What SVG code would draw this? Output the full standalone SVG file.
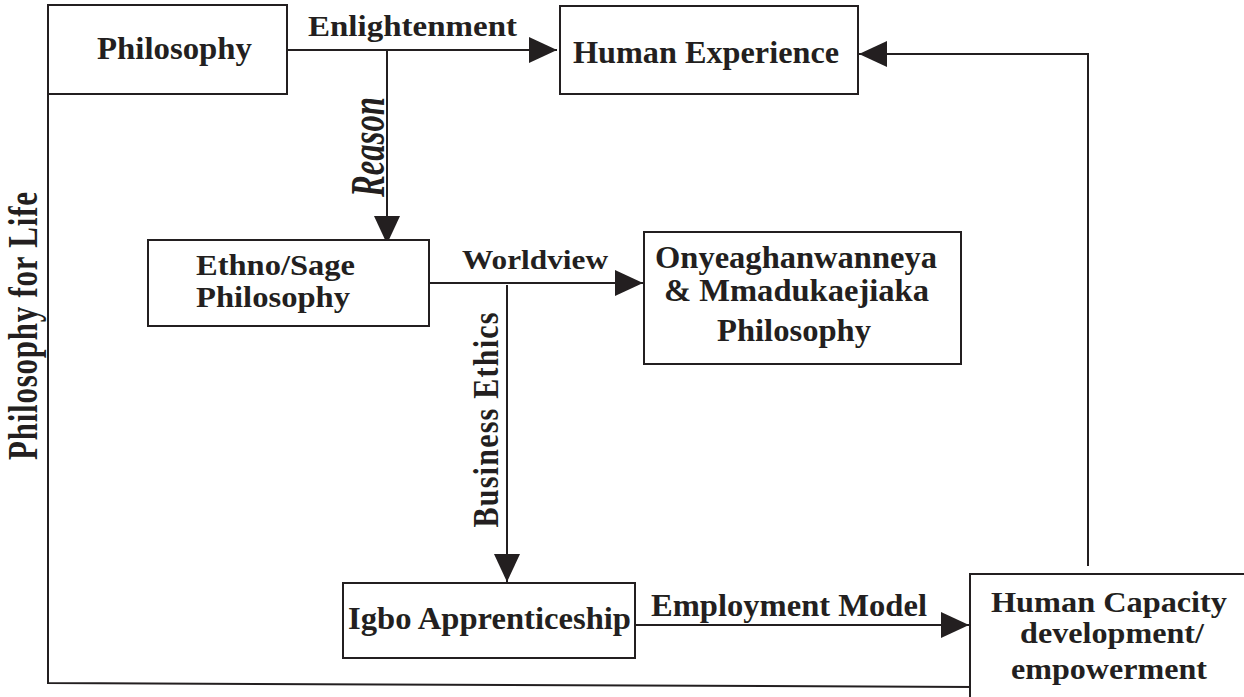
<svg xmlns="http://www.w3.org/2000/svg" width="1244" height="697" viewBox="0 0 1244 697">
<style>
  .box{fill:#fff;stroke:#231f20;stroke-width:2}
  .ln{fill:none;stroke:#231f20;stroke-width:2}
  .t{font-family:"Liberation Serif","Times New Roman",serif;font-weight:bold;fill:#231f20}
  .it{font-style:italic}
</style>
<defs>
  <marker id="ah" markerUnits="userSpaceOnUse" markerWidth="30" markerHeight="28" refX="28" refY="13" orient="auto">
    <path d="M0,0 L28,13 L0,26 Z" fill="#231f20"/>
  </marker>
</defs>
<rect width="1244" height="697" fill="#fff"/>

<g id="connectors">
  <line class="ln" x1="287" y1="50" x2="557" y2="50" marker-end="url(#ah)"/>
  <line class="ln" x1="387" y1="50" x2="387" y2="244" marker-end="url(#ah)"/>
  <line class="ln" x1="429" y1="283" x2="643" y2="283" marker-end="url(#ah)"/>
  <line class="ln" x1="507" y1="285" x2="507" y2="582" marker-end="url(#ah)"/>
  <line class="ln" x1="635" y1="625" x2="969" y2="625" marker-end="url(#ah)"/>
  <polyline class="ln" points="1088,566 1088,54 859,54" marker-end="url(#ah)"/>
  <polyline class="ln" points="48,94 48,683 974,687"/>
  <text class="t" x="308" y="36" font-size="29" textLength="209" lengthAdjust="spacingAndGlyphs">Enlightenment</text>
  <text class="t it" font-size="31" text-anchor="middle" textLength="100" lengthAdjust="spacingAndGlyphs" transform="translate(384,147) scale(1.6,1) rotate(-90)">Reason</text>
  <text class="t" x="462" y="269" font-size="27" textLength="146" lengthAdjust="spacingAndGlyphs">Worldview</text>
  <text class="t" font-size="30" text-anchor="middle" textLength="215" lengthAdjust="spacing" transform="translate(498,420) scale(1.2,1) rotate(-90)">Business Ethics</text>
  <text class="t" x="651" y="616" font-size="31" textLength="276" lengthAdjust="spacingAndGlyphs">Employment Model</text>
  <text class="t" font-size="31" text-anchor="middle" textLength="268" lengthAdjust="spacing" transform="translate(37,326) scale(1.35,1) rotate(-90)">Philosophy for Life</text>
</g>

<g id="philosophy">
  <rect class="box" x="48" y="5" width="239" height="89"/>
  <text class="t" x="97" y="59" font-size="32" textLength="155" lengthAdjust="spacingAndGlyphs">Philosophy</text>
</g>

<g id="human-experience">
  <rect class="box" x="560" y="6" width="298" height="88"/>
  <text class="t" x="573" y="63" font-size="32" textLength="266" lengthAdjust="spacingAndGlyphs">Human Experience</text>
</g>

<g id="ethno-sage">
  <rect class="box" x="148" y="240" width="281" height="86"/>
  <text class="t" x="196" y="275" font-size="29" textLength="159" lengthAdjust="spacingAndGlyphs">Ethno/Sage</text>
  <text class="t" x="196" y="307" font-size="29" textLength="154" lengthAdjust="spacingAndGlyphs">Philosophy</text>
</g>

<g id="onyeaghanwanneya">
  <rect class="box" x="644" y="232" width="317" height="132"/>
  <text class="t" x="655" y="268" font-size="31" textLength="282" lengthAdjust="spacingAndGlyphs">Onyeaghanwanneya</text>
  <text class="t" x="664" y="301" font-size="31" textLength="265" lengthAdjust="spacingAndGlyphs">&amp; Mmadukaejiaka</text>
  <text class="t" x="717" y="341" font-size="31" textLength="154" lengthAdjust="spacingAndGlyphs">Philosophy</text>
</g>

<g id="igbo-apprenticeship">
  <rect class="box" x="343" y="583" width="292" height="75"/>
  <text class="t" x="348" y="629" font-size="31" textLength="283" lengthAdjust="spacingAndGlyphs">Igbo Apprenticeship</text>
</g>

<g id="human-capacity">
  <rect class="box" x="970" y="574" width="280" height="130"/>
  <text class="t" x="991" y="612" font-size="30" textLength="236" lengthAdjust="spacingAndGlyphs">Human Capacity</text>
  <text class="t" x="1020" y="643" font-size="29" textLength="184" lengthAdjust="spacingAndGlyphs">development/</text>
  <text class="t" x="1011" y="679" font-size="29" textLength="196" lengthAdjust="spacingAndGlyphs">empowerment</text>
</g>
</svg>
